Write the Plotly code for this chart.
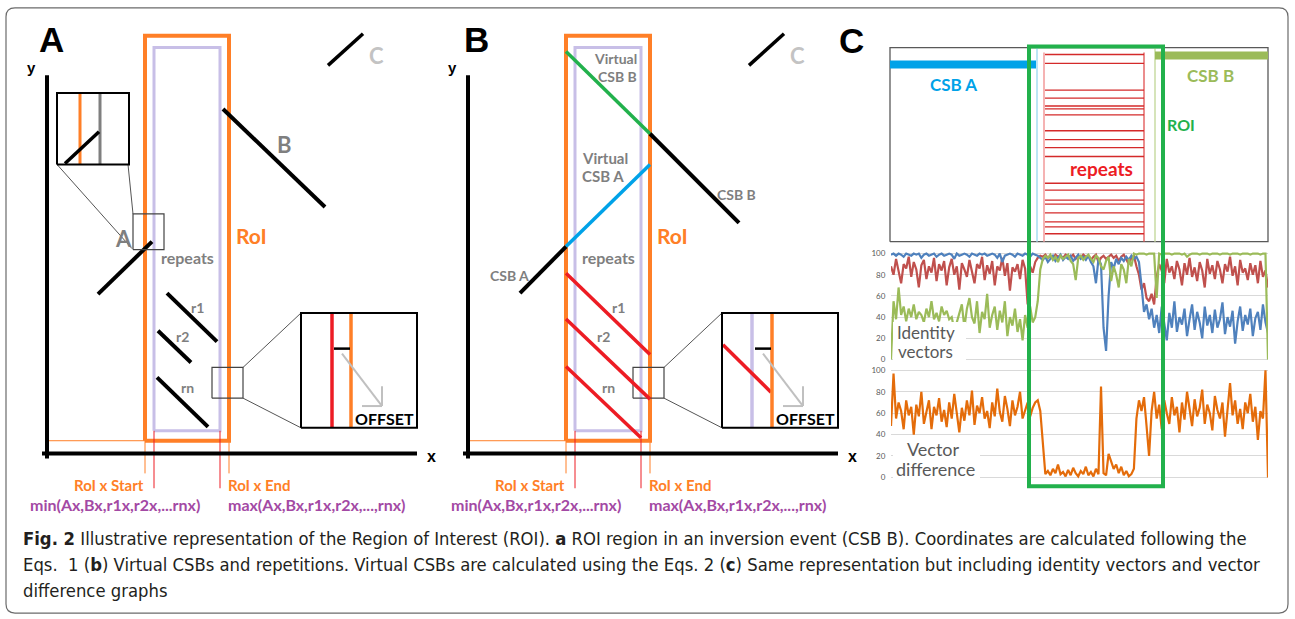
import plotly.graph_objects as go

W, H = 1295, 619

# ================= colours =================
ORANGE = "#ff7f27"
LAVENDER = "#c8bfe7"
RED = "#ed1c24"
GREEN = "#22b14c"
BLUE = "#00a2e8"
PURPLE = "#a349a4"
GRAY_TXT = "#7f7f7f"
LIGHT_GRAY_TXT = "#c3c3c3"

# ================= Panels A & B : shared diagram frame (units from each panel's axis origin) ==========
Y_AXIS_X = [0, 0]
Y_AXIS_Y = [-5, 382]
X_AXIS_X = [-5, 370]
X_AXIS_Y = [0, 0]
ROI_X = [98, 182]
ROI_Y = [13, 422]
ZONE_X = [107, 173]
ZONE_Y = [23, 410]
GUIDE_H_X = [-2, 98]
GUIDE_H_Y = [13, 13]
ROI_TICK_Y = [-20, 13]
ZONE_TICK_Y = [-35, 23]
CSB_C_X = [281, 316]
CSB_C_Y = [392, 424]

# panel A segments
A_CSB_A_X = [51, 105]
A_CSB_A_Y = [161, 214]
A_CSB_B_X = [176, 278]
A_CSB_B_Y = [348, 249]
A_R1_X = [120, 170]
A_R1_Y = [162, 113]
A_R2_X = [111, 144]
A_R2_Y = [124, 92]
A_RN_X = [110, 161]
A_RN_Y = [77, 27]

# panel B segments
B_CSB_A_X = [52, 98]
B_CSB_A_Y = [162, 209]
B_VCSB_A_X = [98, 182]
B_VCSB_A_Y = [209, 292]
B_CSB_B_X = [182, 271]
B_CSB_B_Y = [323, 233]
B_VCSB_B_X = [98, 182]
B_VCSB_B_Y = [406, 323]
B_R1_X = [98, 182]
B_R1_Y = [182, 100]
B_R2_X = [98, 182]
B_R2_Y = [136, 55]
B_RN_X = [98, 173]
B_RN_Y = [88, 16]

# zoom boxes and insets
ZOOM_UP_X = [86, 117]
ZOOM_UP_Y = [206, 242]
INSET_UP_X = [10, 82]
INSET_UP_Y = [292, 364]
UP_CONN1_X = [10, 85]
UP_CONN1_Y = [292, 207]
UP_CONN2_X = [81, 86]
UP_CONN2_Y = [292, 242]
INSET_UP_ORANGE_X = 33
INSET_UP_GRAY_X = 53
INSET_UP_DIAG_X = [18, 52]
INSET_UP_DIAG_Y = [293, 325]

ZOOM_LOW_X = [165, 196]
ZOOM_LOW_Y = [56, 87]
INSET_LOW_X = [254, 370]
INSET_LOW_Y = [26, 142]
LOW_CONN1_X = [196, 254]
LOW_CONN1_Y = [87, 142]
LOW_CONN2_X = [196, 254]
LOW_CONN2_Y = [56, 26]
INSET_A_RED_X = 285
INSET_ORANGE_X = 304
INSET_B_LAV_X = 284
INSET_B_RED_X = [255, 303]
INSET_B_RED_Y = [110, 62]
OFFSET_BAR_X = [287, 303]
OFFSET_BAR_Y = [106, 106]
ARROW_X = [295, 335]
ARROW_Y = [101, 48]
ARROW_WING1_X = [335, 335]
ARROW_WING1_Y = [48, 68]
ARROW_WING2_X = [335, 315]
ARROW_WING2_Y = [48, 48]

# ================= Panel C top (units from box bottom-left) =================
TOP_BOX_X = [0, 378]
TOP_BOX_Y = [0, 196]
CSB_A_BAR_X = [0, 146]
CSB_A_BAR_Y = [179, 179]
CSB_B_BAR_X = [265, 378]
CSB_B_BAR_Y = [188, 188]
CSB_A_EDGE_X = 147
CSB_B_EDGE_X = 265
REPEAT_EDGE_LEFT = 154
REPEAT_EDGE_RIGHT = 254
REPEAT_EDGE_TOP = 191
REPEAT_ROWS = [189, 180, 153, 145, 137, 134, 128, 112, 103, 95, 86, 59, 52, 42, 38, 29, 20, 15, 8]
ROI_C_X = [1029, 1163]   # page frame
ROI_C_Y = [44, 488]

# ================= Panel C line charts =================
IDENTITY_RED = [
    88, 80, 95, 84, 72, 90, 86, 97, 78, 92,
    85, 68, 89, 94, 76, 88, 82, 96, 74, 90,
    84, 93, 70, 87, 95, 80, 88, 66, 91, 85,
    78, 94, 83, 72, 90, 86, 97, 75, 89, 81,
    93, 70, 88, 84, 96, 79, 91, 65, 87, 83,
    90, 76, 94, 86, 52, 88, 82, 92, 96, 98,
    97, 99, 96, 98, 95, 99, 97, 98, 96, 99,
    98, 97, 99, 95, 98, 96, 99, 97, 98, 94,
    97, 99, 92, 96, 98, 95, 97, 99, 96, 98,
    93, 97, 99, 95, 90, 96, 98, 88, 80, 66,
    72, 58, 55, 62, 52, 78, 90, 84, 72, 95,
    82, 88, 76, 93, 85, 70, 91, 80, 96, 78,
    87, 74, 92, 84, 68, 95, 81, 89, 76, 93,
    85, 72, 90, 83, 97, 79, 88, 70, 94, 82,
    86, 75, 91, 80, 89, 72, 93, 78, 84, 68,
]
IDENTITY_BLUE = [
    99, 100, 98, 100, 99, 97, 100, 99, 98, 100,
    99, 100, 96, 99, 100, 98, 99, 100, 97, 99,
    100, 98, 99, 100, 99, 95, 100, 98, 99, 100,
    99, 97, 100, 99, 98, 100, 99, 100, 98, 99,
    100, 99, 96, 100, 92, 98, 99, 100, 99, 97,
    100, 99, 98, 100, 99, 97, 100, 99, 98, 96,
    94, 97, 92, 95, 98, 93, 96, 99, 94, 97,
    95, 98, 93, 96, 99, 95, 97, 94, 98, 92,
    88, 72, 95, 90, 30, 8, 60, 92, 86, 95,
    90, 96, 93, 97, 94, 98, 95, 97, 92, 70,
    45, 52, 38, 48, 30, 42, 25, 50, 35, 18,
    44, 30, 55, 26, 40, 33, 48, 22, 38, 52,
    28, 45, 35, 20, 50, 32, 42, 25, 47, 30,
    38, 54, 24, 40, 31, 46, 15, 36, 50, 27,
    42, 33, 48, 22, 39, 45, 28, 52, 35, 25,
]
IDENTITY_GREEN = [
    0, 55, 38, 68, 42, 50, 36, 48, 40, 52,
    38, 45, 42, 35, 48, 40, 55, 38, 44, 36,
    50, 42, 46, 38, 40, 28, 35, 45, 52, 30,
    48, 58, 40, 34, 55, 25, 45, 38, 62, 30,
    42, 50, 28, 46, 35, 55, 22, 40, 32, 48,
    26, 38, 18, 42, 30, 50, 35, 40, 55, 85,
    95, 98, 96, 99, 94, 97, 92, 98, 95, 97,
    99, 93, 90, 75, 96, 98, 94, 97, 99, 95,
    92, 98, 96, 88, 85, 93, 97, 74, 88, 80,
    68, 90, 85, 72, 95, 88, 100, 99, 100, 100,
    100, 99, 100, 100, 100, 58, 100, 99, 100, 100,
    100, 99, 100, 100, 100, 99, 100, 97, 99, 100,
    100, 100, 99, 100, 100, 100, 99, 100, 100, 100,
    99, 100, 100, 100, 99, 100, 100, 100, 99, 100,
    100, 100, 99, 100, 100, 100, 99, 100, 100, 0,
]
VECTOR_DIFF = [
    48, 97, 55, 70, 62, 45, 72, 58, 66, 40,
    68, 57, 80, 50, 61, 72, 45, 66, 58, 74,
    52, 63, 47, 70, 55, 78, 60, 42, 65, 53,
    72, 58, 81, 49, 67, 60, 75, 55, 62, 46,
    70, 57, 83, 61, 52, 76, 64, 48, 72, 58,
    66, 80, 55, 63, 70, 57, 65, 70, 72, 62,
    35, 3, 6, 2, 8, 4, 12, 3, 5, 1,
    7, 2, 9, 4, 1, 6, 3, 10, 2, 5,
    1, 8, 3, 85, 4, 2, 22, 14, 8, 12,
    4, 10, 2, 6, 1, 3, 8, 55, 72, 62,
    75, 48, 20, 62, 80, 55, 68, 45, 72, 60,
    50, 75, 58, 66, 42, 70, 54, 80, 62, 48,
    73, 57, 65, 82, 50, 68, 60, 44, 76, 63,
    55, 70, 38, 66, 88, 58, 72, 50, 64, 45,
    70, 60, 78, 52, 66, 35, 62, 55, 100, 0,
]
Y_TICKS = [0, 20, 40, 60, 80, 100]

CAPTION_LINES = [
    "<b>Fig. 2</b> Illustrative representation of the Region of Interest (ROI). <b>a</b> ROI region in an inversion event (CSB B). Coordinates are calculated following the",
    "Eqs.  1 (<b>b</b>) Virtual CSBs and repetitions. Virtual CSBs are calculated using the Eqs. 2 (<b>c</b>) Same representation but including identity vectors and vector",
    "difference graphs",
]
CAPTION_Y = [541, 567, 593]

# ===================================================================
fig = go.Figure()


def ax(n):
    return ("x" if n == 1 else f"x{n}"), ("y" if n == 1 else f"y{n}")


def line(xs, ys, color, width, n):
    xa, ya = ax(n)
    fig.add_trace(go.Scatter(x=xs, y=ys, mode="lines", line=dict(color=color, width=width),
                             xaxis=xa, yaxis=ya, hoverinfo="skip", showlegend=False))


def rect(xr, yr, color, width, n):
    line([xr[0], xr[1], xr[1], xr[0], xr[0]], [yr[0], yr[0], yr[1], yr[1], yr[0]], color, width, n)


def vline(x, yr, color, width, n):
    line([x, x], yr, color, width, n)


def text(s, x, y, n, size, color, bold=True, family="Lato", xanchor="center", bg=None):
    xa, ya = ax(n)
    fig.add_annotation(text=(f"<b>{s}</b>" if bold else s), x=x, y=y, xref=xa, yref=ya,
                       showarrow=False, xanchor=xanchor, yanchor="middle",
                       font=dict(family=family, size=size, color=color),
                       bgcolor=bg, borderpad=0)


# ---------------- panels A (2) and B (3) common parts ----------------
for n in (2, 3):
    rect(ZONE_X, ZONE_Y, LAVENDER, 3, n)
    rect(ROI_X, ROI_Y, ORANGE, 4, n)
    line(GUIDE_H_X, GUIDE_H_Y, ORANGE, 1, n)
    vline(ROI_X[0], ROI_TICK_Y, ORANGE, 1, n)
    vline(ROI_X[1], ROI_TICK_Y, ORANGE, 1, n)
    vline(ZONE_X[0], ZONE_TICK_Y, RED, 1, n)
    vline(ZONE_X[1], ZONE_TICK_Y, RED, 1, n)
    line(Y_AXIS_X, Y_AXIS_Y, "black", 4, n)
    line(X_AXIS_X, X_AXIS_Y, "black", 4, n)
    line(CSB_C_X, CSB_C_Y, "black", 3.5, n)
    rect(ZOOM_LOW_X, ZOOM_LOW_Y, "#444444", 1.2, n)
    line(LOW_CONN1_X, LOW_CONN1_Y, "#555555", 1, n)
    line(LOW_CONN2_X, LOW_CONN2_Y, "#555555", 1, n)

# panel A specific
line(A_CSB_A_X, A_CSB_A_Y, "black", 4, 2)
line(A_CSB_B_X, A_CSB_B_Y, "black", 4, 2)
line(A_R1_X, A_R1_Y, "black", 4, 2)
line(A_R2_X, A_R2_Y, "black", 4, 2)
line(A_RN_X, A_RN_Y, "black", 4, 2)
rect(ZOOM_UP_X, ZOOM_UP_Y, "#444444", 1.2, 2)
line(UP_CONN1_X, UP_CONN1_Y, "#555555", 1, 2)
line(UP_CONN2_X, UP_CONN2_Y, "#555555", 1, 2)
vline(INSET_UP_ORANGE_X, INSET_UP_Y, ORANGE, 3, 2)
vline(INSET_UP_GRAY_X, INSET_UP_Y, "#7f7f7f", 3, 2)
line(INSET_UP_DIAG_X, INSET_UP_DIAG_Y, "black", 3.5, 2)
rect(INSET_UP_X, INSET_UP_Y, "black", 2, 2)
vline(INSET_A_RED_X, INSET_LOW_Y, RED, 3.5, 2)

# panel B specific
line(B_VCSB_B_X, B_VCSB_B_Y, GREEN, 3.5, 3)
line(B_VCSB_A_X, B_VCSB_A_Y, BLUE, 3.5, 3)
line(B_CSB_A_X, B_CSB_A_Y, "black", 4, 3)
line(B_CSB_B_X, B_CSB_B_Y, "black", 4, 3)
line(B_R1_X, B_R1_Y, RED, 3.5, 3)
line(B_R2_X, B_R2_Y, RED, 3.5, 3)
line(B_RN_X, B_RN_Y, RED, 3.5, 3)
vline(INSET_B_LAV_X, INSET_LOW_Y, LAVENDER, 3.5, 3)
line(INSET_B_RED_X, INSET_B_RED_Y, RED, 3.5, 3)

for n in (2, 3):
    vline(INSET_ORANGE_X, INSET_LOW_Y, ORANGE, 3.5, n)
    line(OFFSET_BAR_X, OFFSET_BAR_Y, "black", 2.5, n)
    line(ARROW_X, ARROW_Y, "#c0c0c0", 2, n)
    line(ARROW_WING1_X, ARROW_WING1_Y, "#c0c0c0", 2, n)
    line(ARROW_WING2_X, ARROW_WING2_Y, "#c0c0c0", 2, n)
    rect(INSET_LOW_X, INSET_LOW_Y, "black", 2, n)

# ---------------- panel C top box (4) ----------------
rect(TOP_BOX_X, TOP_BOX_Y, "#595959", 1.3, 4)
vline(CSB_A_EDGE_X, TOP_BOX_Y, "#a6dcf2", 1.5, 4)
vline(CSB_B_EDGE_X, TOP_BOX_Y, "#c9dba3", 1.5, 4)
vline(REPEAT_EDGE_LEFT, [0, REPEAT_EDGE_TOP], "#f29a9a", 1.5, 4)
vline(REPEAT_EDGE_RIGHT, [0, REPEAT_EDGE_TOP], "#e05050", 1.3, 4)
rep_x, rep_y = [], []
for r in REPEAT_ROWS:
    rep_x += [REPEAT_EDGE_LEFT + 1, REPEAT_EDGE_RIGHT, None]
    rep_y += [r, r, None]
line(rep_x, rep_y, "#d42a2a", 1.3, 4)
line(CSB_A_BAR_X, CSB_A_BAR_Y, BLUE, 8, 4)
line(CSB_B_BAR_X, CSB_B_BAR_Y, "#9bbb59", 8, 4)

# ---------------- panel C line charts (5 identity, 6 vector difference) ----------------
idx = list(range(len(IDENTITY_RED)))
line(idx, IDENTITY_RED, "#c0504d", 2.2, 5)
line(idx, IDENTITY_BLUE, "#4f81bd", 2.2, 5)
line(idx, IDENTITY_GREEN, "#9bbb59", 2.2, 5)
line(list(range(len(VECTOR_DIFF))), VECTOR_DIFF, "#e46c0a", 2.2, 6)

# ---------------- shapes on page frame ----------------
fig.add_shape(type="rect", xref="x", yref="y", x0=893, x1=966, y0=322, y1=361,
              fillcolor="white", line=dict(width=0), layer="above")
fig.add_shape(type="rect", xref="x", yref="y", x0=893, x1=980, y0=440, y1=481,
              fillcolor="white", line=dict(width=0), layer="above")
fig.add_shape(type="rect", xref="x", yref="y", x0=ROI_C_X[0], x1=ROI_C_X[1], y0=ROI_C_Y[0], y1=ROI_C_Y[1],
              line=dict(color=GREEN, width=4), layer="above")
bx0, by0, bx1, by1, r = 6, 5, 1288, 616, 9
border = (f"M {bx0+r},{by0} L {bx1-r},{by0} Q {bx1},{by0} {bx1},{by0+r} L {bx1},{by1-r} "
          f"Q {bx1},{by1} {bx1-r},{by1} L {bx0+r},{by1} Q {bx0},{by1} {bx0},{by1-r} "
          f"L {bx0},{by0+r} Q {bx0},{by0} {bx0+r},{by0} Z")
fig.add_shape(type="path", path=border, xref="x", yref="y", line=dict(color="#6b6b6b", width=1.2))

# ---------------- texts ----------------
for n in (2, 3):
    text("y", -16, 390, n, 15, "black", family="Liberation Sans")
    text("x", 384, -3, n, 16, "black", family="Liberation Sans")
    text("C", 329, 402, n, 22, LIGHT_GRAY_TXT)
    text("RoI", 204, 220, n, 21, ORANGE)
    text("repeats", 140, 198, n, 16, GRAY_TXT)
    text("r1", 150, 148, n, 14, GRAY_TXT)
    text("r2", 135, 118, n, 14, GRAY_TXT)
    text("rn", 140, 67, n, 14, GRAY_TXT)
    text("RoI x Start", 62, -32, n, 15, ORANGE)
    text("RoI x End", 212, -32, n, 15, ORANGE)
    text("min(Ax,Bx,r1x,r2x,...rnx)", 68, -51, n, 16, PURPLE)
    text("max(Ax,Bx,r1x,r2x,...,rnx)", 269, -51, n, 16, PURPLE)
    text("OFFSET", 337, 35, n, 16, "black")

text("A", 4, 418, 2, 35, "black", family="Liberation Sans")
text("B", 237, 312, 2, 22, GRAY_TXT)
text("A", 76, 217, 2, 22, GRAY_TXT)
text("B", 8, 418, 3, 35, "black", family="Liberation Sans")
text("Virtual", 147, 399, 3, 14, GRAY_TXT)
text("CSB B", 149, 381, 3, 14, GRAY_TXT)
text("Virtual", 137, 298, 3, 15, GRAY_TXT)
text("CSB A", 135, 280, 3, 15, GRAY_TXT)
text("CSB B", 268, 262, 3, 14, GRAY_TXT)
text("CSB A", 41, 180, 3, 14, GRAY_TXT)

text("C", 851, 38, 1, 35, "black", family="Liberation Sans")
text("CSB A", 63, 159, 4, 17, BLUE)
text("CSB B", 320, 168, 4, 17, "#9bbb59")
text("ROI", 291, 118, 4, 16, GREEN)
text("repeats", 211, 74, 4, 19, RED)

text("Identity", 896, 333, 1, 17, "#595959", bold=False, xanchor="left")
text("vectors", 897, 352, 1, 17, "#595959", bold=False, xanchor="left")
text("Vector", 933, 450, 1, 18, "#595959", bold=False)
text("difference", 935, 471, 1, 18, "#595959", bold=False)

for s, yy in zip(CAPTION_LINES, CAPTION_Y):
    text(s, 22, yy, 1, 18.3, "#231f20", bold=False,
         family="Liberation Sans Narrow, DejaVu Sans Condensed, sans-serif", xanchor="left")


# ---------------- axes ----------------
def hidden(domain, rng, anchor):
    return dict(domain=domain, range=rng, visible=False, fixedrange=True, anchor=anchor)


def chart_y(domain, anchor):
    return dict(domain=domain, range=[-2, 102], anchor=anchor, tickvals=Y_TICKS, showgrid=True,
                gridcolor="#d9d9d9", gridwidth=1, zeroline=False, showline=False, ticks="outside",
                ticklen=3, tickcolor="rgba(0,0,0,0)", tickfont=dict(family="Lato", size=8, color="#595959"),
                fixedrange=True)


fig.update_layout(
    width=W, height=H, margin=dict(l=0, r=0, t=0, b=0),
    paper_bgcolor="white", plot_bgcolor="rgba(0,0,0,0)", showlegend=False,
    xaxis=hidden([0, 1], [0, W], "y"), yaxis=hidden([0, 1], [H, 0], "x"),
    xaxis2=hidden([0, 445 / W], [-47, 398], "y2"), yaxis2=hidden([0, 1], [-164, 455], "x2"),
    xaxis3=hidden([430 / W, 860 / W], [-38, 392], "y3"), yaxis3=hidden([0, 1], [-164, 455], "x3"),
    xaxis4=hidden([860 / W, 1], [-30, 405], "y4"), yaxis4=hidden([0, 1], [-378, 241], "x4"),
    xaxis5=hidden([891 / W, 1268 / W], [0, 149], "y5"),
    yaxis5=chart_y([1 - 362.1 / H, 1 - 250.9 / H], "x5"),
    xaxis6=hidden([891 / W, 1268 / W], [0, 149], "y6"),
    yaxis6=chart_y([1 - 481.2 / H, 1 - 368.8 / H], "x6"),
)

fig.write_html("out.html", config={"displayModeBar": False},
               post_script="document.body.style.margin='0';document.body.style.padding='0';")
